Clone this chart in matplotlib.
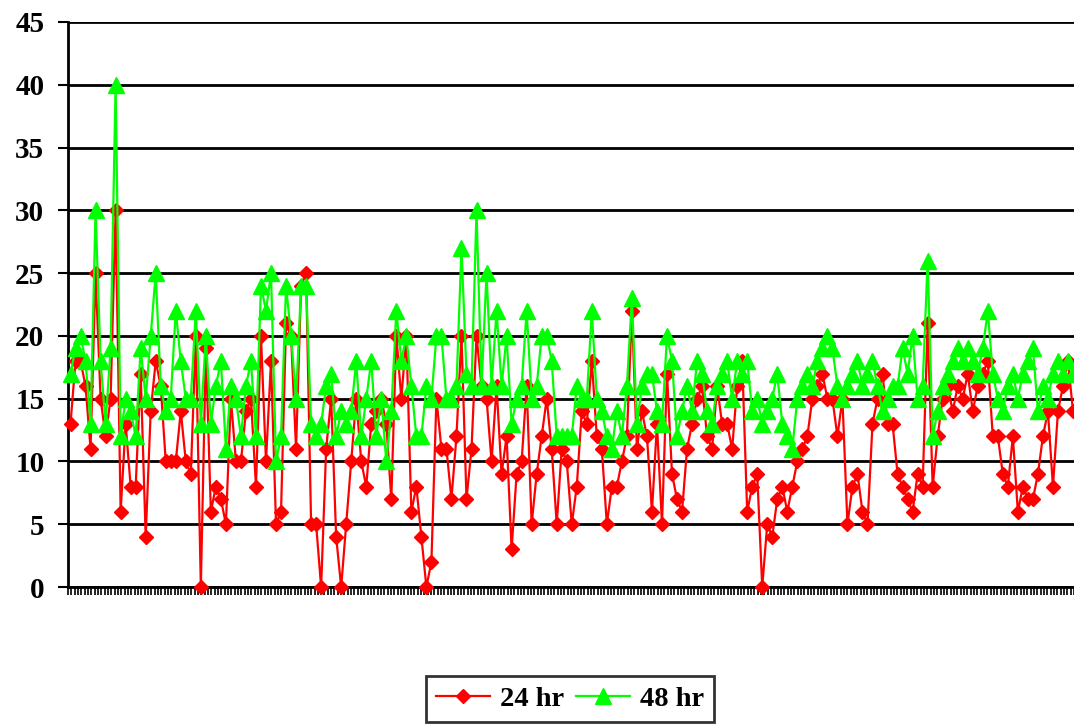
import matplotlib.pyplot as plt
import numpy as np

# values, one per category
hr24 = [13, 18, 18, 16, 11, 25, 15, 12, 15, 30,
        6, 13, 8, 8, 17, 4, 14, 18, 16, 10,
        10, 10, 14, 10, 9, 20, 0, 19, 6, 8,
        7, 5, 15, 10, 10, 14, 15, 8, 20, 10,
        18, 5, 6, 21, 20, 11, 24, 25, 5, 5,
        0, 11, 15, 4, 0, 5, 10, 15, 10, 8,
        13, 14, 15, 13, 7, 20, 15, 20, 6, 8,
        4, 0, 2, 15, 11, 11, 7, 12, 20, 7,
        11, 20, 16, 15, 10, 16, 9, 12, 3, 9,
        10, 16, 5, 9, 12, 15, 11, 5, 11, 10,
        5, 8, 14, 13, 18, 12, 11, 5, 8, 8,
        10, 12, 22, 11, 14, 12, 6, 13, 5, 17,
        9, 7, 6, 11, 13, 15, 16, 12, 11, 16,
        13, 13, 11, 16, 18, 6, 8, 9, 0, 5,
        4, 7, 8, 6, 8, 10, 11, 12, 15, 16,
        17, 15, 15, 12, 15, 5, 8, 9, 6, 5,
        13, 15, 17, 13, 13, 9, 8, 7, 6, 9,
        8, 21, 8, 12, 15, 16, 14, 16, 15, 17,
        14, 16, 17, 18, 12, 12, 9, 8, 12, 6,
        8, 7, 7, 9, 12, 14, 8, 14, 16, 18, 14]

hr48 = [17, 19, 20, 18, 13, 30, 18, 13, 19, 40,
        12, 15, 14, 12, 19, 15, 20, 25, 16, 14,
        15, 22, 18, 15, 15, 22, 13, 20, 13, 16,
        18, 11, 16, 15, 12, 16, 18, 12, 24, 22,
        25, 10, 12, 24, 20, 15, 24, 24, 13, 12,
        13, 16, 17, 12, 14, 13, 14, 18, 12, 15,
        18, 12, 15, 10, 14, 22, 18, 20, 16, 12,
        12, 16, 15, 20, 20, 15, 15, 16, 27, 17,
        16, 30, 16, 25, 16, 22, 16, 20, 13, 15,
        16, 22, 15, 16, 20, 20, 18, 12, 12, 12,
        12, 16, 15, 15, 22, 15, 14, 12, 11, 14,
        12, 16, 23, 13, 16, 17, 17, 14, 13, 20,
        18, 12, 14, 16, 14, 18, 17, 14, 13, 16,
        17, 18, 15, 18, 17, 18, 14, 15, 13, 14,
        15, 17, 13, 12, 11, 15, 16, 17, 16, 18,
        19, 20, 19, 16, 15, 16, 17, 18, 16, 17,
        18, 16, 14, 15, 16, 16, 19, 17, 20, 15,
        16, 26, 12, 14, 16, 17, 18, 19, 18, 19,
        18, 17, 19, 22, 17, 15, 14, 16, 17, 15,
        17, 18, 19, 14, 16, 15, 17, 18, 17, 18, 17]

series_labels = ['24 hr', '48 hr']
y_ticks = [0, 5, 10, 15, 20, 25, 30, 35, 40, 45]

plt.rcParams['font.family'] = ['Liberation Serif', 'DejaVu Serif']
plt.rcParams['font.weight'] = 'bold'

fig = plt.figure(figsize=(10.74, 7.27), dpi=100)
ax = fig.add_axes([68 / 1074, 140 / 727, 1 - 68 / 1074, 565 / 727])

x = np.arange(len(hr24))
ax.plot(x, hr24, color='#ff0000', lw=1.6, marker='D', ms=7,
        label=series_labels[0], clip_on=False, zorder=3)
ax.plot(x, hr48, color='#00ff00', lw=1.6, marker='^', ms=11,
        label=series_labels[1], clip_on=False, zorder=4)

ax.set_ylim(0, 45)
ax.set_xlim(-0.5, len(hr24) - 0.8)
ax.set_yticks(y_ticks)
ax.set_xticks(np.linspace(-0.5, len(hr24) - 0.8, 303))
ax.set_xticklabels([])

ax.yaxis.grid(True, color='black', lw=2)
ax.set_axisbelow(True)
for side in ['top', 'right']:
    ax.spines[side].set_visible(False)
for side in ['left', 'bottom']:
    ax.spines[side].set_linewidth(2)
    ax.spines[side].set_color('black')

ax.tick_params(axis='y', direction='out', length=7, width=1.5,
               labelsize=21, pad=10)
ax.tick_params(axis='x', direction='out', length=6, width=1.2)

leg = fig.legend(loc='upper center', bbox_to_anchor=(570 / 1074, 51 / 727),
                 borderaxespad=0, ncol=2, frameon=True, fancybox=False,
                 edgecolor='black', prop={'size': 20.5, 'weight': 'bold'},
                 handlelength=1.9, columnspacing=0.4, handletextpad=0.35,
                 borderpad=0.35)
leg.get_frame().set_linewidth(2)

fig.savefig('out.png', dpi=100)
